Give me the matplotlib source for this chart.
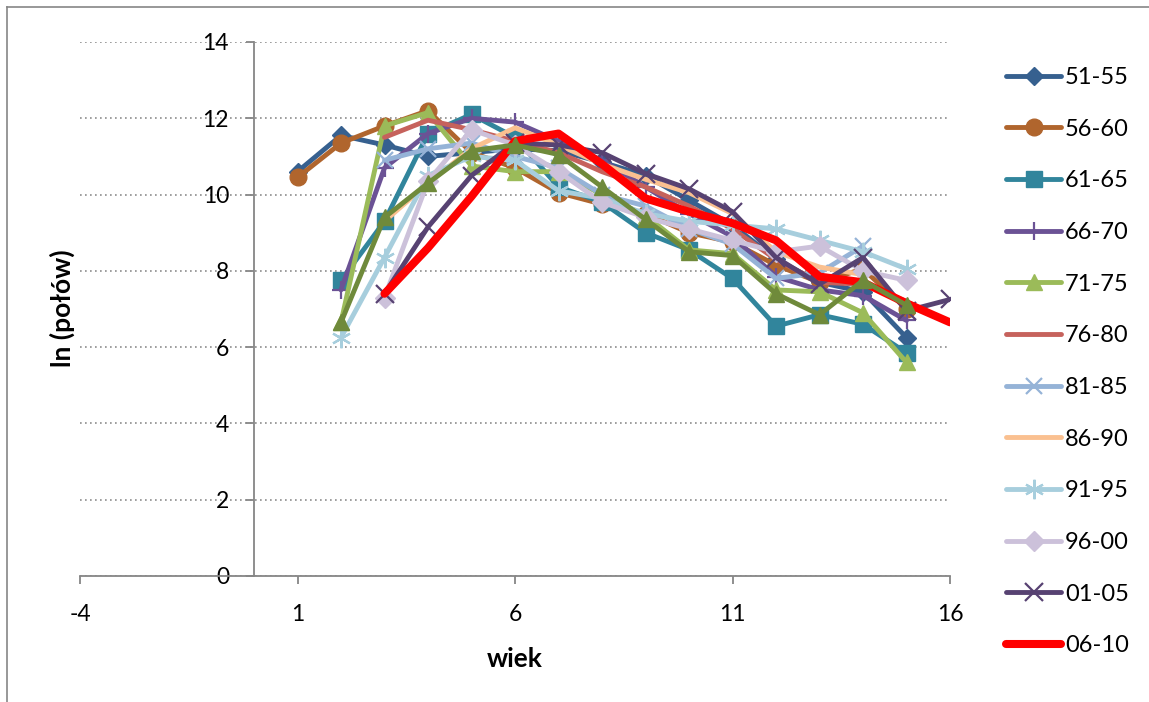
import matplotlib
matplotlib.use("Agg")
import matplotlib.pyplot as plt
from matplotlib.lines import Line2D

plt.rcParams["font.family"] = ["Lato", "DejaVu Sans"]
plt.rcParams["axes.unicode_minus"] = False

# ---------------------------------------------------------------
# Data: ln(catch) by age for each 5-year group
# ---------------------------------------------------------------
labels = ["51-55", "56-60", "61-65", "66-70", "71-75", "76-80",
          "81-85", "86-90", "91-95", "96-00", "01-05", "06-10"]

wiek_51_55 = list(range(1, 16))
y_51_55 = [10.6, 11.55, 11.3, 11.0, 11.1, 11.2, 11.15, 10.85, 10.5, 9.85, 9.2, 8.3, 7.7, 7.45, 6.25]

wiek_56_60 = list(range(1, 16))
y_56_60 = [10.45, 11.35, 11.8, 12.2, 11.1, 10.7, 10.05, 9.75, 9.5, 9.0, 8.75, 8.15, 7.7, 8.05, 7.0]

wiek_61_65 = list(range(2, 16))
y_61_65 = [7.75, 9.3, 11.6, 12.1, 11.5, 10.2, 9.8, 9.0, 8.55, 7.8, 6.55, 6.85, 6.6, 5.85]

wiek_66_70 = list(range(2, 16))
y_66_70 = [7.5, 10.7, 11.6, 12.0, 11.9, 11.4, 10.9, 10.2, 9.5, 8.9, 7.85, 7.5, 7.35, 6.7]

wiek_71_75 = list(range(2, 16))
y_71_75 = [6.65, 11.8, 12.15, 10.75, 10.6, 10.6, 10.0, 9.45, 8.55, 8.45, 7.5, 7.45, 6.9, 5.6]

wiek_76_80 = list(range(3, 16))
y_76_80 = [11.5, 11.95, 11.7, 11.4, 11.1, 10.6, 10.2, 9.7, 9.1, 8.3, 7.7, 7.65, 7.2]

wiek_81_85 = list(range(3, 15))
y_81_85 = [10.9, 11.2, 11.35, 11.0, 10.7, 10.0, 9.7, 9.1, 8.7, 7.8, 7.95, 8.65]

wiek_86_90 = list(range(3, 15))
y_86_90 = [9.3, 10.3, 11.2, 11.75, 11.3, 10.8, 10.4, 10.05, 9.5, 8.5, 8.1, 7.9]

wiek_91_95 = list(range(2, 16))
y_91_95 = [6.25, 8.35, 10.5, 11.0, 10.9, 10.1, 9.9, 9.5, 9.3, 9.2, 9.1, 8.8, 8.5, 8.05]

wiek_96_00 = list(range(3, 16))
y_96_00 = [7.3, 10.35, 11.7, 11.3, 10.6, 9.8, 9.4, 9.1, 8.8, 8.5, 8.65, 8.0, 7.75]

wiek_01_05 = list(range(3, 17))
y_01_05 = [7.4, 9.15, 10.5, 11.35, 11.3, 11.1, 10.55, 10.15, 9.55, 8.35, 7.65, 8.35, 6.95, 7.25]

wiek_06_10 = list(range(3, 17))
y_06_10 = [7.4, 8.6, 9.95, 11.4, 11.6, 10.8, 9.9, 9.55, 9.25, 8.8, 7.85, 7.7, 7.15, 6.65]

# extra series (legend entry does not fit in the box)
wiek_extra = list(range(2, 16))
y_extra = [6.65, 9.4, 10.3, 11.15, 11.3, 11.05, 10.2, 9.35, 8.5, 8.4, 7.4, 6.85, 7.75, 7.1]

xs = [wiek_51_55, wiek_56_60, wiek_61_65, wiek_66_70, wiek_71_75, wiek_76_80,
      wiek_81_85, wiek_86_90, wiek_91_95, wiek_96_00, wiek_01_05, wiek_06_10]
ys = [y_51_55, y_56_60, y_61_65, y_66_70, y_71_75, y_76_80,
      y_81_85, y_86_90, y_91_95, y_96_00, y_01_05, y_06_10]

colors = ["#36608F", "#B0652D", "#31859C", "#6B5295", "#9BBB59", "#C6625C",
          "#95B3D7", "#FAC090", "#A7CEDD", "#CCC1DA", "#574272", "#FF0000"]
markers = ["D", "o", "s", "+", "^", None, "x", None, (6, 2, 0), "D", "x", None]
msizes = [9, 12, 11, 13, 11, 0, 12, 0, 14, 10, 13, 0]

# ---------------------------------------------------------------
# Figure
# ---------------------------------------------------------------
fig = plt.figure(figsize=(11.49, 7.02), dpi=100)
ax = fig.add_axes([80 / 1149, 1 - 576 / 702, 870 / 1149, 534 / 702])

for x, y, c, m, ms, lab in zip(xs, ys, colors, markers, msizes, labels):
    lw = 5.8 if lab == "06-10" else 3.5
    mew = 1.6 if m in ("+", "x", (6, 2, 0)) else 1
    ax.plot(x, y, color=c, lw=lw, marker=m, markersize=ms, markeredgewidth=mew,
            markeredgecolor=c, solid_capstyle="round", solid_joinstyle="round", label=lab)

ax.plot(wiek_extra, y_extra, color="#6F8A3B", lw=3.5, marker="^", markersize=12,
        solid_joinstyle="round", label="_nolegend_")

ax.set_xlim(-4, 16)
ax.set_ylim(0, 14)
ax.set_xticks([-4, 1, 6, 11, 16])
ax.set_yticks(range(0, 15, 2))

for s in ["top", "right"]:
    ax.spines[s].set_visible(False)
ax.spines["left"].set_position(("data", 0))
ax.spines["left"].set_color("#868686")
ax.spines["bottom"].set_color("#868686")
ax.spines["left"].set_linewidth(1.3)
ax.spines["bottom"].set_linewidth(1.3)
ax.tick_params(axis="both", colors="#868686", labelcolor="black", labelsize=16.5,
               length=6, width=1.3)
ax.tick_params(axis="x", pad=14)
ax.tick_params(axis="y", pad=12)

ax.yaxis.grid(True, linestyle=(0, (1, 2)), color="#8C8C8C", linewidth=1.2)
ax.set_axisbelow(True)

ax.set_xlabel("wiek", fontsize=19, fontweight="bold", labelpad=16)
fig.text(62 / 1149, 1 - 308 / 702, "ln (połów)", rotation=90, fontsize=19,
         fontweight="bold", ha="center", va="center")

handles, leg_labels = ax.get_legend_handles_labels()
fig.legend(handles, leg_labels, loc="upper left", bbox_to_anchor=(994 / 1149, 1 - 55 / 702),
           frameon=False, fontsize=17, handlelength=2.35, handletextpad=0.15,
           labelspacing=1.3, borderpad=0)

# outer chart border
fig.add_artist(Line2D([7 / 1149, 7 / 1149], [0, 1 - 7 / 702], color="#868686", lw=1.2))
fig.add_artist(Line2D([7 / 1149, 1], [1 - 7 / 702, 1 - 7 / 702], color="#868686", lw=1.2))

fig.savefig("out.png", dpi=100)
